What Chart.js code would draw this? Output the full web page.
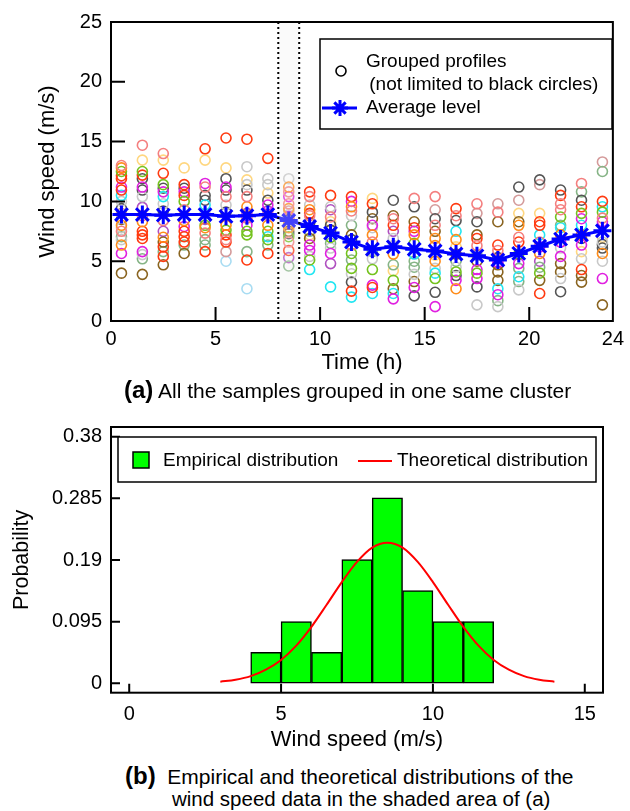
<!DOCTYPE html>
<html><head><meta charset="utf-8">
<script src="https://cdn.jsdelivr.net/npm/chart.js@4"></script>
<style>
body{margin:0;background:#fff;width:630px;height:811px;overflow:hidden;position:relative;font-family:"Liberation Sans",Arial,sans-serif;color:#000;}
canvas{position:absolute;left:0;}
#c1{top:0}
#c2{top:400px}
.cap{position:absolute;font-size:21px;line-height:24px;white-space:nowrap;}
.cap b{font-size:24px;}
</style></head>
<body>
<canvas id="c1" width="630" height="400"></canvas>
<canvas id="c2" width="630" height="360"></canvas>
<div class="cap" style="left:124px;top:378px"><b>(a)</b> All the samples grouped in one same cluster</div>
<div class="cap" style="left:125px;top:764px"><b>(b)</b>&nbsp; Empirical and theoretical distributions of the</div>
<div class="cap" style="left:172px;top:787px;font-size:20.5px">wind speed data in the shaded area of (a)</div>
<script>
// ---------------- DATA ----------------
const hours = [0.5,1.5,2.5,3.5,4.5,5.5,6.5,7.5,8.5,9.5,10.5,11.5,12.5,13.5,14.5,15.5,16.5,17.5,18.5,19.5,20.5,21.5,22.5,23.5];
const avgLevel = [8.9,8.9,8.85,8.9,8.9,8.75,8.8,8.9,8.4,7.9,7.35,6.6,6.0,6.2,6.0,5.85,5.6,5.45,5.1,5.65,6.25,6.85,7.2,7.55];
// wind speed of each grouped profile at each hour (one row per hour)
const sampleValues = [
 [13.0,12.8,12.5,12.15,11.9,11.2,10.95,10.5,10.0,9.4,9.0,8.5,8.0,7.8,7.5,7.05,6.8,6.35,5.65,4.0],
 [14.7,13.45,12.5,12.2,11.9,11.2,10.95,10.4,9.5,8.8,8.3,7.5,7.2,6.9,5.8,5.55,5.2,3.9],
 [14.0,13.45,12.35,11.4,11.1,10.8,10.4,9.8,9.2,8.4,7.5,7.0,6.6,6.2,5.8,5.4,4.7],
 [12.8,11.4,11.1,10.8,10.5,10.0,9.3,8.4,7.9,7.5,7.05,6.6,6.35,5.65],
 [14.4,13.45,11.5,11.2,10.5,10.1,9.7,9.0,8.5,8.0,7.8,7.35,6.8,6.35,5.8],
 [15.3,12.8,11.9,11.2,10.95,10.4,9.7,9.1,8.0,7.6,7.2,6.8,6.6,5.8,5.0],
 [15.2,12.9,11.8,11.4,10.95,10.4,9.55,9.0,8.6,8.0,7.5,7.2,5.8,5.1,2.7],
 [13.6,11.9,11.4,10.7,10.1,9.7,9.2,8.8,8.0,7.5,7.05,6.8,6.35,5.65],
 [11.9,11.2,10.8,10.4,9.8,9.4,9.2,8.9,8.75,8.6,8.5,8.3,8.1,7.8,7.5,7.3,7.05,6.6,5.9,5.3,4.6],
 [10.8,10.4,9.7,9.3,9.0,8.8,8.2,7.5,7.2,6.9,6.35,5.9,5.4,5.1,4.3],
 [10.5,9.55,9.3,8.7,8.3,8.0,7.6,7.0,6.5,6.1,5.65,4.8,2.85],
 [10.4,10.0,9.55,9.2,8.8,8.0,7.2,6.8,6.35,5.65,5.1,4.4,3.95,3.25,2.5,2.0],
 [10.25,9.8,9.1,8.55,8.0,7.8,7.2,6.6,5.8,5.2,4.3,3.0,2.8,2.3],
 [10.1,8.8,8.55,8.0,7.5,6.9,6.3,5.6,4.7,4.2,3.4,2.7,2.3,1.85],
 [10.25,9.55,8.3,7.8,7.5,7.2,6.5,5.6,5.0,4.5,3.9,3.3,2.8,2.1],
 [10.4,9.3,8.55,8.0,7.5,6.9,6.3,5.5,5.0,4.4,4.0,3.55,2.4,1.2],
 [9.4,8.8,8.4,7.5,6.8,6.2,5.6,5.0,4.5,4.1,3.8,3.4,2.7],
 [9.8,9.0,8.3,7.2,6.9,6.3,5.5,5.0,4.3,4.0,3.55,2.85,1.35],
 [9.8,9.1,8.3,6.35,5.9,5.3,4.9,4.7,4.1,3.4,2.7,2.2,1.7,1.2],
 [11.2,10.1,9.0,8.3,8.0,7.0,6.6,5.6,4.8,4.4,3.7,3.3,2.6],
 [11.8,11.4,9.0,8.3,8.0,7.2,6.6,6.2,5.65,5.0,4.5,4.0,3.4,2.3],
 [10.95,10.5,9.8,9.3,8.7,8.0,7.8,7.2,6.6,6.1,5.4,4.8,4.1,3.55,2.45],
 [11.5,10.8,10.1,9.55,9.0,8.55,8.0,7.2,6.9,6.35,5.8,5.2,4.3,3.8,3.25],
 [13.3,12.5,10.0,9.55,9.1,8.6,8.3,7.0,6.6,6.4,6.1,5.65,5.0,3.55,1.35]
];
// profile group of each value above (one letter per value)
const sampleGroups = [
 "soGrrmrcgkpbogsdgomb",
 "syGrkmkgusorrrmgdb",
 "syrGkmcgksuobrdrb",
 "yrkmrGsomrrrdb",
 "rymskkcguGosddr",
 "rykmksgkoGrsrql",
 "rgygksousmGGdrl",
 "rggykmusoGcGdr",
 "gosmsoqgmskyoobkGsrudc",
 "rsgorskdybmmgGc",
 "rgusykkGdgmuc",
 "rmosgdbksGdGgkrc",
 "yrkbmgosdgGmrc",
 "kbsruggodyGbcmk",
 "skbrmoGcddgbmk",
 "sqksbooyogcGkm",
 "rskcoybdgGkmo",
 "sqkbrsdbmGmkg",
 "qsbrskmbbbcmdg",
 "kqybosrGmdcdg",
 "kqyrrcsmoudGbr",
 "krssGdcomgmbbg",
 "sdkrGmcokmygrbb",
 "qdrcGsmygkkogmb"
];
const yTicksTop = [0,5,10,15,20,25];
const xTicksTop = [0,5,10,15,20,24];
const shadedHours = [8,9];

const binCenters = [4.5,5.5,6.5,7.5,8.5,9.5,10.5,11.5];
const binProb = [0.0476,0.0952,0.0476,0.1905,0.2857,0.1429,0.0952,0.0952];
const theoX = [3,3.5,4,4.5,5,5.5,6,6.5,7,7.5,8,8.5,9,9.5,10,10.5,11,11.5,12,12.5,13,13.5,14];
const theoY = [0.0025,0.0055,0.011,0.021,0.036,0.058,0.087,0.121,0.156,0.187,0.209,0.2165,0.209,0.187,0.156,0.121,0.087,0.058,0.036,0.021,0.011,0.0055,0.0025];
const yTicksBottom = [0,0.095,0.19,0.285,0.38];
const yTickLabelsBottom = ["0","0.095","0.19","0.285","0.38"];
const xTicksBottom = [0,5,10,15];

// ---------------- STYLE ----------------
const FAM = "'Liberation Sans', Arial, sans-serif";
const groupColors = {
 r:'#ff3a10', o:'#ff8c1a', y:'#ffd780', s:'#f47f7f', q:'#d49a9a', k:'#555555', g:'#c8c8c8',
 m:'#e020e0', c:'#22e6f2', G:'#74c21e', d:'#86b486', b:'#8a6420', u:'#b050c0', l:'#a8dcf2', p:'#d49a9a'
};

// build scatter datasets by group
const groupPts = {};
hours.forEach((h,i)=>{
  sampleValues[i].forEach((v,j)=>{
    const g = sampleGroups[i][j] || 'k';
    (groupPts[g] = groupPts[g] || []).push({x:h,y:v});
  });
});
const scatterSets = Object.keys(groupPts).map(g=>({
  type:'scatter', data:groupPts[g], showLine:false,
  pointStyle:'circle', pointRadius:5, pointBorderWidth:1.6,
  pointBorderColor:groupColors[g], pointBackgroundColor:'rgba(0,0,0,0)',
  pointHoverRadius:5
}));

function setTicks(arr){ return s => { s.ticks = arr.map(v=>({value:v})); }; }

const topPlugin = {
  id:'topDeco',
  afterDatasetsDraw(chart){
    const {ctx, chartArea:a, scales:{x,y}} = chart;
    const x0 = x.getPixelForValue(shadedHours[0]), x1 = x.getPixelForValue(shadedHours[1]);
    ctx.save();
    ctx.fillStyle = 'rgba(238,238,238,0.28)';
    ctx.fillRect(x0, a.top, x1-x0, a.bottom-a.top);
    ctx.strokeStyle = '#000'; ctx.lineWidth = 2; ctx.setLineDash([2,3]);
    [x0,x1].forEach(px=>{ctx.beginPath();ctx.moveTo(px,a.top);ctx.lineTo(px,a.bottom);ctx.stroke();});
    ctx.setLineDash([]);
    // frame
    ctx.lineWidth = 2;
    ctx.strokeRect(a.left, a.top, a.right-a.left, a.bottom-a.top);
    // inside ticks
    ctx.beginPath();
    yTicksTop.slice(1,-1).forEach(v=>{const py=y.getPixelForValue(v);ctx.moveTo(a.left,py);ctx.lineTo(a.left+14,py);});
    xTicksTop.slice(1,-1).forEach(v=>{const px=x.getPixelForValue(v);ctx.moveTo(px,a.bottom);ctx.lineTo(px,a.bottom-14);});
    ctx.stroke();
    // legend
    ctx.fillStyle='#fff';
    ctx.fillRect(320,39,292,90);
    ctx.lineWidth=1.5;
    ctx.strokeRect(320,39,292,90);
    ctx.beginPath();ctx.arc(341,71,5,0,Math.PI*2);ctx.lineWidth=1.6;ctx.stroke();
    ctx.fillStyle='#000';
    ctx.font = "19px "+FAM; ctx.textBaseline='middle'; ctx.textAlign='left';
    ctx.fillText('Grouped profiles',366,62);
    ctx.fillText(' (not limited to black circles)',364,85);
    ctx.fillText('Average level',366,108);
    ctx.strokeStyle='#0000ff'; ctx.lineWidth=3;
    ctx.beginPath();ctx.moveTo(322,108);ctx.lineTo(357,108);ctx.stroke();
    const r=8; ctx.beginPath();
    for(let k=0;k<4;k++){const ang=k*Math.PI/4;ctx.moveTo(340-r*Math.cos(ang),108-r*Math.sin(ang));ctx.lineTo(340+r*Math.cos(ang),108+r*Math.sin(ang));}
    ctx.stroke();
    ctx.restore();
  }
};

new Chart(document.getElementById('c1'), {
  type:'scatter',
  data:{datasets:[
    {type:'line', data:hours.map((h,i)=>({x:h,y:avgLevel[i]})), borderColor:'#0000ff', borderWidth:3,
     pointStyle:'star', pointRadius:9, pointBorderWidth:3, pointBorderColor:'#0000ff', pointBackgroundColor:'#0000ff', tension:0, pointHoverRadius:9},
    ...scatterSets
  ]},
  options:{
    responsive:false, animation:false, events:[],
    layout:{padding:{top:22,right:15,left:0,bottom:0}},
    plugins:{legend:{display:false}, tooltip:{enabled:false}},
    scales:{
      x:{type:'linear', min:0, max:24, afterBuildTicks:setTicks(xTicksTop),
         grid:{display:false, drawTicks:false}, border:{display:false},
         ticks:{font:{size:20,family:FAM}, color:'#000', padding:6, maxRotation:0, autoSkip:false},
         title:{display:true, text:'Time (h)', color:'#000', font:{size:22,family:FAM}, padding:{top:0,bottom:24}},
         afterFit:s=>{s.height=79;}},
      y:{min:0, max:25, afterBuildTicks:setTicks(yTicksTop),
         grid:{display:false, drawTicks:false}, border:{display:false},
         ticks:{font:{size:20,family:FAM}, color:'#000', padding:9},
         title:{display:true, text:'Wind speed (m/s)', color:'#000', font:{size:22,family:FAM}, padding:{top:35,bottom:0}},
         afterFit:s=>{s.width=111;}}
    }
  },
  plugins:[topPlugin]
});

const botPlugin = {
  id:'botDeco',
  afterDraw(chart){
    const {ctx, chartArea:a, scales:{x,y}} = chart;
    ctx.save();
    ctx.strokeStyle='#000'; ctx.lineWidth=2;
    ctx.strokeRect(a.left,a.top,a.right-a.left,a.bottom-a.top);
    ctx.beginPath();
    yTicksBottom.forEach(v=>{const py=y.getPixelForValue(v);ctx.moveTo(a.left,py);ctx.lineTo(a.left+9,py);});
    xTicksBottom.forEach(v=>{const px=x.getPixelForValue(v);ctx.moveTo(px,a.bottom);ctx.lineTo(px,a.bottom-9);});
    ctx.stroke();
    // legend
    ctx.lineWidth=1.5;
    ctx.fillStyle='#fff'; ctx.fillRect(118,37,478,45); ctx.strokeRect(118,37,478,45);
    ctx.fillStyle='#00ff00'; ctx.fillRect(133,52,16,16); ctx.strokeRect(133,52,16,16);
    ctx.fillStyle='#000'; ctx.font="19px "+FAM; ctx.textBaseline='middle'; ctx.textAlign='left';
    ctx.fillText('Empirical distribution',163,61);
    ctx.fillText('Theoretical distribution',397,61);
    ctx.strokeStyle='#ff0000'; ctx.lineWidth=2;
    ctx.beginPath(); ctx.moveTo(358,61); ctx.lineTo(392,61); ctx.stroke();
    ctx.restore();
  }
};

new Chart(document.getElementById('c2'), {
  type:'bar',
  data:{datasets:[
    {type:'line', data:theoX.map((v,i)=>({x:v,y:theoY[i]})), borderColor:'#ff0000', borderWidth:2, pointRadius:0, tension:0.4, cubicInterpolationMode:'monotone'},
    {type:'bar', data:binCenters.map((v,i)=>({x:v,y:binProb[i]})), backgroundColor:'#00ff00', borderColor:'#000', borderWidth:1.5, borderSkipped:false,
     barPercentage:1, categoryPercentage:1, grouped:false}
  ]},
  options:{
    responsive:false, animation:false, events:[],
    layout:{padding:{top:27,right:27,left:0,bottom:0}},
    plugins:{legend:{display:false}, tooltip:{enabled:false}},
    scales:{
      x:{type:'linear', min:-0.6, max:15.6, offset:false, afterBuildTicks:setTicks(xTicksBottom),
         grid:{display:false, drawTicks:false}, border:{display:false},
         ticks:{font:{size:20,family:FAM}, color:'#000', padding:10, maxRotation:0, autoSkip:false},
         title:{display:true, text:'Wind speed (m/s)', color:'#000', font:{size:22,family:FAM}, padding:{top:0,bottom:7}},
         afterFit:s=>{s.height=67.3;}},
      y:{min:-0.0145, max:0.395, afterBuildTicks:setTicks(yTicksBottom),
         grid:{display:false, drawTicks:false}, border:{display:false},
         ticks:{font:{size:20,family:FAM}, color:'#000', padding:9, callback:(v)=>{const i=yTicksBottom.indexOf(v);return i>=0?yTickLabelsBottom[i]:'';}},
         title:{display:true, text:'Probability', color:'#000', font:{size:21.5,family:FAM}, padding:{top:9,bottom:0}},
         afterFit:s=>{s.width=111;}}
    }
  },
  plugins:[botPlugin]
});
</script>
</body></html>
